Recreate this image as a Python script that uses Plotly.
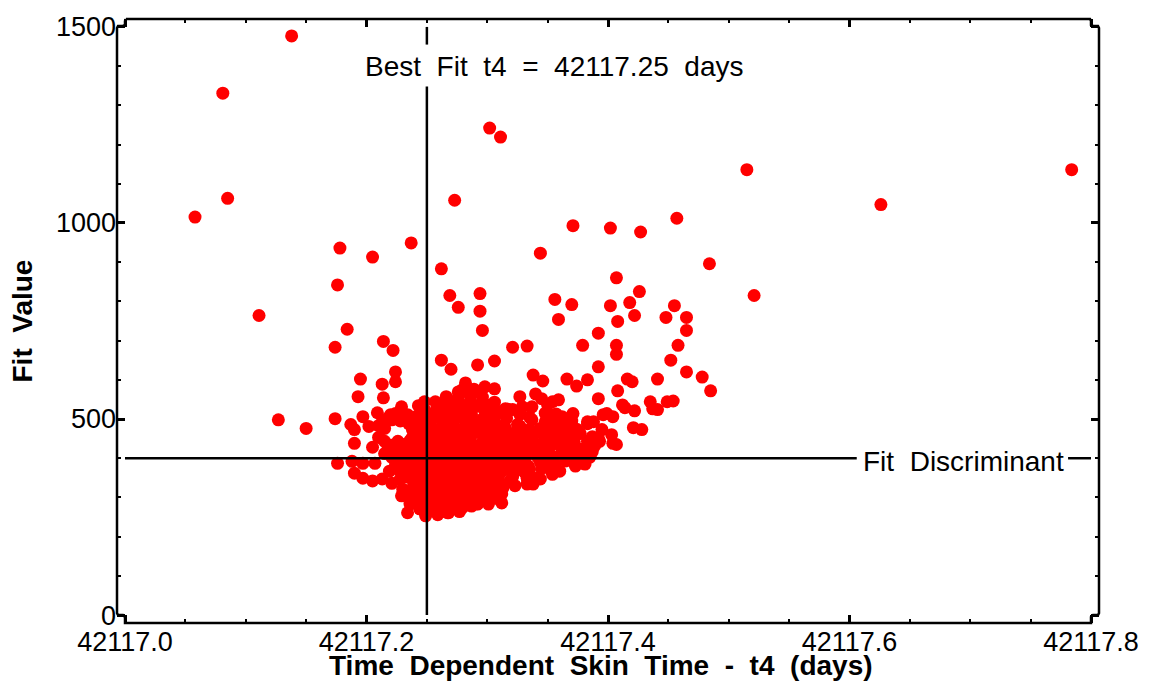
import plotly.graph_objects as go

# ---- fit results: time-dependent skin time t4 (days) vs. fit value ----
# sparse fits far from the minimum
t4_outer = [42117.058, 42117.081, 42117.085, 42117.138, 42117.111, 42117.127, 42117.150,
            42117.178, 42117.176, 42117.184, 42117.174, 42117.205, 42117.237, 42117.214,
            42117.222, 42117.262, 42117.273, 42117.302, 42117.311, 42117.269, 42117.276,
            42117.294, 42117.294, 42117.296, 42117.344, 42117.371, 42117.402, 42117.427,
            42117.457, 42117.484, 42117.515, 42117.521, 42117.626, 42117.784]
fit_outer = [1015, 1331, 1063, 1477, 764, 498, 476, 936, 842, 729, 683, 913, 949, 698,
             675, 883, 1058, 1242, 1219, 815, 785, 820, 775, 726, 923, 993, 987, 977,
             1012, 896, 1136, 815, 1047, 1136]

# fits in the upper part of the cloud
t4_upper = [42117.356, 42117.370, 42117.359, 42117.379, 42117.392, 42117.407, 42117.426,
            42117.418, 42117.402, 42117.455, 42117.448, 42117.465, 42117.465, 42117.458,
            42117.408, 42117.422, 42117.407, 42117.407, 42117.452, 42117.392, 42117.465,
            42117.478, 42117.485, 42117.441, 42117.416, 42117.420, 42117.408, 42117.435,
            42117.454, 42117.441, 42117.414, 42117.422, 42117.404, 42117.395, 42117.403,
            42117.407, 42117.387, 42117.421, 42117.428, 42117.383, 42117.392, 42117.396,
            42117.383, 42117.262, 42117.270, 42117.292, 42117.306, 42117.321, 42117.333,
            42117.195, 42117.213, 42117.224, 42117.224, 42117.193, 42117.214, 42117.338,
            42117.346, 42117.366, 42117.374, 42117.449, 42117.412, 42117.437, 42117.399,
            42117.404]
fit_upper = [805, 792, 754, 688, 719, 860, 825, 797, 789, 789, 759, 759, 726, 688,
             749, 764, 688, 665, 650, 633, 620, 607, 572, 602, 602, 595, 572, 544,
             546, 524, 529, 521, 506, 473, 460, 435, 455, 478, 473, 600, 552, 511,
             493, 650, 627, 638, 648, 683, 686, 602, 589, 620, 595, 557, 554, 612,
             597, 602, 584, 544, 536, 526, 514, 438]

# left flank of the cloud
t4_left = [42117.174, 42117.187, 42117.190, 42117.197, 42117.209, 42117.202, 42117.190,
           42117.220, 42117.229, 42117.241, 42117.248, 42117.257, 42117.263, 42117.215,
           42117.215, 42117.235, 42117.244, 42117.176, 42117.188, 42117.197, 42117.207,
           42117.190, 42117.197, 42117.205, 42117.213, 42117.221, 42117.219, 42117.228,
           42117.228, 42117.229, 42117.236, 42117.234, 42117.221, 42117.234, 42117.205,
           42117.210]
fit_left = [501, 486, 473, 506, 516, 481, 438, 511, 531, 506, 544, 544, 529, 476,
            443, 488, 488, 387, 392, 387, 387, 362, 349, 342, 347, 336, 367, 367,
            347, 304, 283, 261, 498, 511, 428, 453]

# right flank and lower edge of the cloud
t4_right = [42117.287, 42117.287, 42117.298, 42117.306, 42117.315, 42117.321, 42117.337,
            42117.345, 42117.354, 42117.359, 42117.362, 42117.371, 42117.383, 42117.337,
            42117.315, 42117.325, 42117.350, 42117.331, 42117.342, 42117.356, 42117.369,
            42117.375, 42117.383, 42117.379, 42117.356, 42117.354, 42117.344, 42117.333,
            42117.338, 42117.323, 42117.312, 42117.312, 42117.312, 42117.301, 42117.287,
            42117.279, 42117.267, 42117.276, 42117.292, 42117.304, 42117.313, 42117.333,
            42117.341, 42117.352, 42117.360, 42117.381, 42117.377, 42117.388, 42117.367,
            42117.387, 42117.393, 42117.373, 42117.327, 42117.340]
fit_right = [564, 539, 582, 577, 526, 524, 531, 552, 544, 549, 506, 514, 488, 498,
             476, 486, 468, 460, 430, 450, 460, 425, 443, 387, 385, 359, 347, 349,
             334, 367, 334, 309, 286, 283, 278, 273, 261, 273, 283, 316, 324, 334,
             349, 372, 367, 385, 405, 493, 412, 417, 443, 380, 557, 564]

# dense core around the best fit
t4_core = [42117.282, 42117.279, 42117.289,
           42117.266, 42117.276, 42117.286, 42117.296,
           42117.243, 42117.271, 42117.279, 42117.291, 42117.302, 42117.329, 42117.350,
           42117.224, 42117.251, 42117.261, 42117.271, 42117.279, 42117.287, 42117.299,
           42117.309, 42117.327, 42117.348, 42117.357,
           42117.213, 42117.228, 42117.243, 42117.253, 42117.263, 42117.272, 42117.282,
           42117.294, 42117.306, 42117.348, 42117.360, 42117.370,
           42117.238, 42117.248, 42117.258, 42117.268, 42117.277, 42117.287, 42117.299,
           42117.309, 42117.335, 42117.344, 42117.362, 42117.374,
           42117.238, 42117.248, 42117.258, 42117.268, 42117.277, 42117.286, 42117.297,
           42117.307, 42117.317, 42117.327, 42117.337, 42117.348, 42117.364, 42117.392,
           42117.221, 42117.231, 42117.241, 42117.251, 42117.261, 42117.271, 42117.281,
           42117.291, 42117.301, 42117.311, 42117.321, 42117.331, 42117.353, 42117.367,
           42117.389,
           42117.215, 42117.226, 42117.236, 42117.246, 42117.256, 42117.266, 42117.276,
           42117.286, 42117.296, 42117.306, 42117.316, 42117.325, 42117.335, 42117.348,
           42117.362, 42117.373,
           42117.230, 42117.239, 42117.249, 42117.259, 42117.269, 42117.279, 42117.289,
           42117.299, 42117.309, 42117.319, 42117.329, 42117.344, 42117.365,
           42117.236, 42117.246, 42117.256, 42117.266, 42117.276, 42117.286, 42117.296,
           42117.306, 42117.316, 42117.335, 42117.345,
           42117.234, 42117.244, 42117.254, 42117.264, 42117.274, 42117.284, 42117.294,
           42117.304, 42117.321,
           42117.239, 42117.249, 42117.259, 42117.269, 42117.279, 42117.289, 42117.299,
           42117.323,
           42117.236, 42117.246, 42117.256, 42117.266, 42117.276, 42117.286, 42117.296,
           42117.306,
           42117.241, 42117.251, 42117.261, 42117.271, 42117.281, 42117.291,
           42117.244, 42117.254, 42117.264, 42117.272,
           42117.249, 42117.259]
fit_core = [592, 574, 576,
            557, 555, 559, 556,
            534, 532, 536, 533, 535, 531, 536,
            514, 512, 516, 513, 515, 511, 514, 516, 512, 515, 513,
            493, 495, 491, 494, 492, 496, 493, 490, 494, 493, 491, 495,
            473, 475, 471, 474, 472, 475, 471, 474, 473, 476, 472, 474,
            453, 451, 455, 452, 454, 450, 453, 456, 452, 454, 451, 453, 455, 452,
            433, 435, 431, 434, 432, 436, 433, 430, 434, 432, 435, 431, 433, 436, 432,
            412, 414, 410, 413, 411, 415, 412, 409, 413, 411, 414, 410, 412, 415, 411, 413,
            392, 394, 390, 393, 391, 395, 392, 389, 393, 391, 394, 390, 393,
            372, 374, 370, 373, 371, 375, 372, 369, 373, 371, 374,
            352, 354, 350, 353, 351, 355, 352, 349, 353,
            331, 333, 329, 332, 330, 334, 331, 330,
            311, 313, 309, 312, 310, 314, 311, 308,
            291, 293, 289, 292, 290, 294,
            271, 273, 269, 272,
            253, 256]

# further fits packed in between the core ones
t4_fill = [42117.266, 42117.276, 42117.286, 42117.296, 42117.306,
           42117.248, 42117.258, 42117.268, 42117.277, 42117.287, 42117.297, 42117.307,
           42117.317,
           42117.218, 42117.231, 42117.246, 42117.256, 42117.266, 42117.276, 42117.286,
           42117.296, 42117.304, 42117.316, 42117.335, 42117.354,
           42117.210, 42117.243, 42117.253, 42117.263, 42117.272, 42117.282, 42117.292,
           42117.302, 42117.314, 42117.327, 42117.354, 42117.367,
           42117.243, 42117.253, 42117.263, 42117.272, 42117.282, 42117.292, 42117.302,
           42117.312, 42117.322, 42117.332, 42117.344, 42117.357, 42117.377,
           42117.226, 42117.236, 42117.246, 42117.256, 42117.266, 42117.276, 42117.286,
           42117.296, 42117.306, 42117.316, 42117.325, 42117.335, 42117.347, 42117.360,
           42117.372,
           42117.218, 42117.228, 42117.238, 42117.248, 42117.258, 42117.268, 42117.277,
           42117.287, 42117.297, 42117.307, 42117.317, 42117.327, 42117.339, 42117.350,
           42117.362, 42117.380,
           42117.221, 42117.231, 42117.241, 42117.251, 42117.261, 42117.271, 42117.281,
           42117.291, 42117.301, 42117.311, 42117.321, 42117.331, 42117.342, 42117.354,
           42117.369, 42117.385,
           42117.224, 42117.234, 42117.244, 42117.254, 42117.264, 42117.274, 42117.284,
           42117.294, 42117.304, 42117.314, 42117.324, 42117.334, 42117.350,
           42117.230, 42117.240, 42117.251, 42117.261, 42117.271, 42117.281, 42117.291,
           42117.301, 42117.311, 42117.321, 42117.331,
           42117.239, 42117.249, 42117.259, 42117.269, 42117.279, 42117.289, 42117.299,
           42117.309, 42117.319,
           42117.230, 42117.243, 42117.253, 42117.263, 42117.272, 42117.282, 42117.292,
           42117.302,
           42117.238, 42117.248, 42117.258, 42117.268, 42117.277, 42117.287, 42117.297,
           42117.307,
           42117.243, 42117.253, 42117.263, 42117.272, 42117.282, 42117.292,
           42117.248, 42117.258, 42117.268, 42117.277,
           42117.276]
fit_fill = [544, 546, 542, 545, 543,
            524, 526, 522, 525, 523, 526, 522, 525,
            503, 505, 501, 504, 502, 506, 503, 500, 504, 502, 505, 501,
            483, 485, 481, 484, 482, 486, 483, 480, 484, 482, 485, 481,
            463, 465, 461, 464, 462, 466, 463, 460, 464, 462, 465, 461, 463,
            443, 445, 441, 444, 442, 446, 443, 440, 444, 442, 445, 441, 443, 446,
            442,
            423, 425, 421, 424, 422, 426, 423, 420, 424, 422, 425, 421, 423, 426,
            422, 424,
            402, 404, 400, 403, 401, 405, 402, 399, 403, 401, 404, 400, 402, 405,
            401, 403,
            382, 384, 380, 383, 381, 385, 382, 379, 383, 381, 384, 380, 382,
            362, 364, 360, 363, 361, 365, 362, 359, 363, 361, 364,
            342, 344, 340, 343, 341, 345, 342, 339, 343,
            321, 323, 319, 322, 320, 324, 321, 318,
            301, 303, 299, 302, 300, 304, 301, 298,
            281, 283, 279, 282, 280, 284,
            263, 265, 261, 264,
            569]

fit_time = t4_outer + t4_upper + t4_left + t4_right + t4_core + t4_fill
fit_value = fit_outer + fit_upper + fit_left + fit_right + fit_core + fit_fill

# reference markers
BEST_FIT_T4 = 42117.25
FIT_DISCRIMINANT = 400

X_MIN, X_MAX = 42117.0, 42117.8
Y_MIN, Y_MAX = 0, 1500
x_ticks = [42117.0, 42117.2, 42117.4, 42117.6, 42117.8]
y_ticks = [0, 500, 1000, 1500]

# ---- geometry (pixels) ----
W, H = 1151, 688
FRAME_L, FRAME_R, FRAME_T, FRAME_B = 117, 1099, 14, 623
OFFSET = 8  # axes sit 8 px outside the data extent
data_w = (FRAME_R - FRAME_L) - 2 * OFFSET
data_h = (FRAME_B - FRAME_T) - 2 * OFFSET
x_pad = (X_MAX - X_MIN) * OFFSET / data_w
y_pad = (Y_MAX - Y_MIN) * OFFSET / data_h

FONT = "Liberation Sans, Arial, Helvetica, sans-serif"


def fx(p):
    return (p - FRAME_L) / (FRAME_R - FRAME_L)


def fy(p):
    return (FRAME_B - p) / (FRAME_B - FRAME_T)


fig = go.Figure()

fig.add_trace(go.Scatter(
    x=fit_time, y=fit_value, mode="markers",
    marker=dict(color="#ff0000", size=13, line=dict(width=0)),
    showlegend=False, hoverinfo="x+y"))

# best-fit t4 line, broken around its label
fig.add_trace(go.Scatter(
    x=[BEST_FIT_T4, BEST_FIT_T4, None, BEST_FIT_T4, BEST_FIT_T4],
    y=[Y_MIN, 1348, None, 1455, Y_MAX],
    mode="lines", line=dict(color="black", width=2.5),
    showlegend=False, hoverinfo="skip"))

# fit discriminant line, broken around its label
fig.add_trace(go.Scatter(
    x=[X_MIN, 42117.606, None, 42117.781, X_MAX],
    y=[FIT_DISCRIMINANT] * 2 + [None] + [FIT_DISCRIMINANT] * 2,
    mode="lines", line=dict(color="black", width=2.5),
    showlegend=False, hoverinfo="skip"))

# frame with small stepped corners
pts = [(126, 14), (1090, 14), (1091, 16), (1091, 20), (1093, 21), (1098, 21), (1099, 23),
       (1099, 613), (1098, 615), (1093, 615), (1091, 617), (1091, 623),
       (125, 623), (125, 617), (123, 615), (118, 615), (117, 613),
       (117, 23), (118, 21), (123, 21), (125, 20), (125, 16), (126, 14)]
path = "M " + " L ".join(f"{fx(a):.5f},{fy(b):.5f}" for a, b in pts)
fig.add_shape(type="path", path=path, xref="paper", yref="paper",
              line=dict(color="black", width=2.5), layer="above")

ann_font = dict(family=FONT, size=28, color="black")
fig.add_annotation(x=42117.355, y=1400, text="Best  Fit  t4  =  42117.25  days",
                   showarrow=False, font=ann_font, xanchor="center", yanchor="middle")
fig.add_annotation(x=42117.694, y=FIT_DISCRIMINANT, yshift=-3, text="Fit  Discriminant",
                   showarrow=False, font=ann_font, xanchor="center", yanchor="middle")

title_font = dict(family=FONT, size=28, color="black")
fig.add_annotation(x=fx(601), y=fy(666), xref="paper", yref="paper",
                   text="<b>Time  Dependent  Skin  Time  -  t4  (days)</b>",
                   showarrow=False, font=title_font, xanchor="center", yanchor="middle")
fig.add_annotation(x=fx(22), y=fy(319), xref="paper", yref="paper",
                   text="<b>Fit  Value</b>", textangle=-90,
                   showarrow=False, font=title_font, xanchor="center", yanchor="middle")

tick_font = dict(family=FONT, size=27, color="black")
fig.update_xaxes(
    range=[X_MIN - x_pad, X_MAX + x_pad], tickvals=x_ticks,
    ticktext=[f"{v:.1f}" for v in x_ticks],
    ticks="inside", ticklen=8, tickwidth=2.5, tickcolor="black",
    minor=dict(ticks="inside", ticklen=4, tickwidth=2, tickcolor="black",
               tick0=X_MIN, dtick=0.05, showgrid=False),
    mirror="ticks", showline=False, showgrid=False, zeroline=False,
    tickfont=tick_font)
fig.update_yaxes(
    range=[Y_MIN - y_pad, Y_MAX + y_pad], tickvals=y_ticks,
    ticks="inside", ticklen=8, tickwidth=2.5, tickcolor="black",
    minor=dict(ticks="inside", ticklen=4, tickwidth=2, tickcolor="black",
               tick0=0, dtick=100, showgrid=False),
    mirror="ticks", showline=False, showgrid=False, zeroline=False,
    tickfont=tick_font)

fig.update_layout(
    width=W, height=H,
    margin=dict(l=FRAME_L, r=W - FRAME_R, t=FRAME_T, b=H - FRAME_B),
    plot_bgcolor="white", paper_bgcolor="white",
    font=dict(family=FONT, color="black"),
    showlegend=False)

fig.write_html("out.html")
